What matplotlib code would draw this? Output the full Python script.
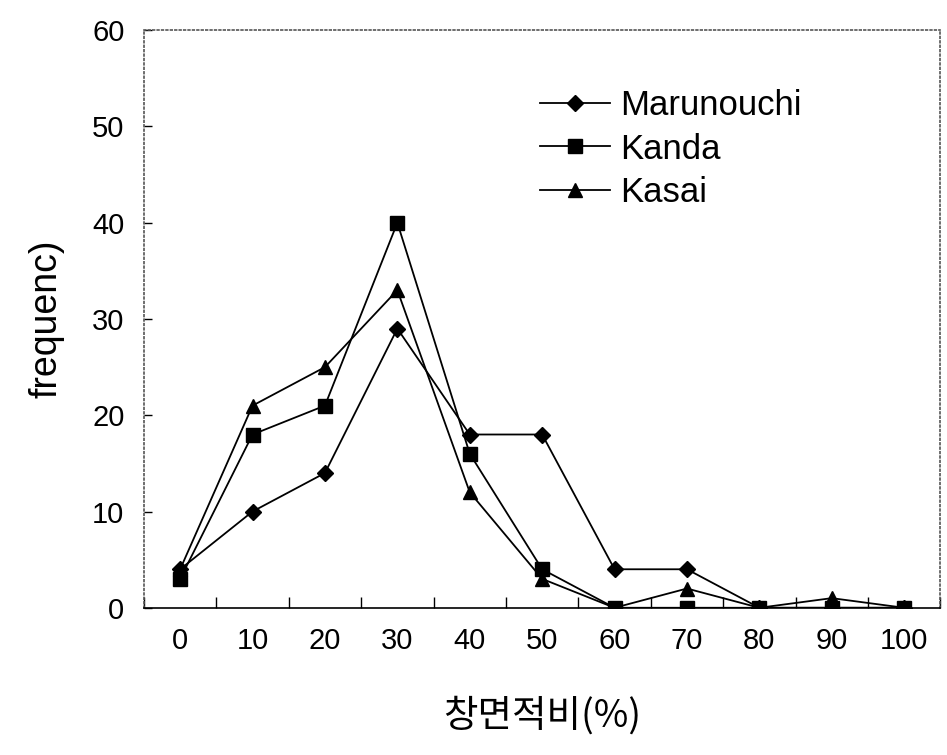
import matplotlib.pyplot as plt
from matplotlib.ticker import MultipleLocator

# window-to-wall ratio categories (%)
categories = ["0", "10", "20", "30", "40", "50", "60", "70", "80", "90", "100"]
marunouchi = [4, 10, 14, 29, 18, 18, 4, 4, 0, 0, 0]
kanda = [3, 18, 21, 40, 16, 4, 0, 0, 0, 0, 0]
kasai = [4, 21, 25, 33, 12, 3, 0, 2, 0, 1, 0]

plt.rcParams["font.family"] = ["Liberation Sans", "DejaVu Sans"]

fig = plt.figure(figsize=(9.47, 7.55), dpi=100)
ax = fig.add_axes([0.152, 0.195, 0.841, 0.765])

x = range(len(categories))
ax.plot(x, marunouchi, color="black", lw=1.3, marker="D", ms=8, label="Marunouchi")
ax.plot(x, kanda, color="black", lw=1.3, marker="s", ms=10, label="Kanda")
ax.plot(x, kasai, color="black", lw=1.3, marker="^", ms=10, label="Kasai")

ax.set_xlim(-0.5, 10.5)
ax.set_ylim(0, 60)
ax.set_xticks(list(x))
ax.set_xticklabels(categories)
ax.xaxis.set_minor_locator(MultipleLocator(1, offset=0.5))
ax.yaxis.set_major_locator(MultipleLocator(10))
ax.tick_params(axis="x", which="major", length=0, pad=14, labelsize=21)
ax.tick_params(axis="x", which="minor", direction="in", length=8, width=1)
ax.tick_params(axis="y", direction="in", length=6, width=1, pad=14, labelsize=21)

for s in ax.spines.values():
    s.set_linestyle(":")
    s.set_color("#555555")
    s.set_linewidth(1.2)
ax.spines["bottom"].set_linestyle("-")
ax.spines["bottom"].set_color("black")

ax.set_xlabel("창면적비(%)", family=["Noto Sans CJK KR", "DejaVu Sans"],
              fontsize=27, labelpad=30)
ax.set_ylabel("frequenc)", fontsize=27, labelpad=20)

ax.legend(loc="upper left", bbox_to_anchor=(0.48, 0.922), frameon=False,
          fontsize=25, handlelength=2.0, handletextpad=0.3, labelspacing=0.3,
          borderaxespad=0)

fig.savefig("out.png", dpi=100)
